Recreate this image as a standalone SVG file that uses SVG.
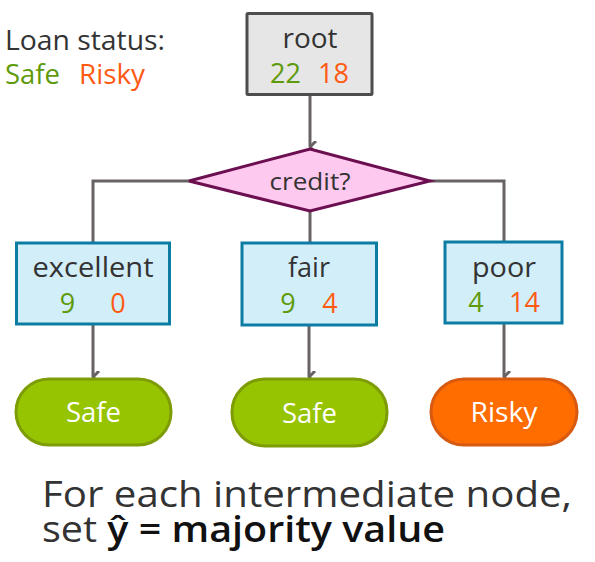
<svg xmlns="http://www.w3.org/2000/svg" width="595" height="562" viewBox="0 0 595 562">
<style>
text{font-family:"Open Sans","DejaVu Sans",sans-serif;}
.dark{fill:#333333}
.g{fill:#5e9a0a}
.o{fill:#ff5a12}
.lbl{font-size:27px;text-anchor:middle}
.num{font-size:27px;text-anchor:middle}
.box{fill:#d2eef9;stroke:#0d7ca3;stroke-width:3}
.con{fill:none;stroke:#686264;stroke-width:3}
.pill{font-size:27px;text-anchor:middle;fill:#ffffff}
</style>
<defs>
<marker id="ah" viewBox="0 0 12 12" refX="6" refY="11" markerWidth="12" markerHeight="12" markerUnits="userSpaceOnUse" orient="auto-start-reverse">
<polyline points="0,5 6,11 12,5" fill="none" stroke="#686264" stroke-width="3"/>
</marker>
</defs>
<g id="legend">
<text x="5" y="50" font-size="27" class="dark" textLength="160" lengthAdjust="spacingAndGlyphs">Loan status:</text>
<text x="5" y="84" font-size="27" class="g" textLength="55" lengthAdjust="spacingAndGlyphs">Safe</text>
<text x="79" y="84" font-size="27" class="o" textLength="66" lengthAdjust="spacingAndGlyphs">Risky</text>
</g>
<g id="connectors">
<line class="con" x1="310" y1="95" x2="310" y2="147" marker-end="url(#ah)"/>
<polyline class="con" points="189,181 93,181 93,243"/>
<line class="con" x1="310" y1="211" x2="310" y2="243"/>
<polyline class="con" points="430,181 504,181 504,242"/>
<line class="con" x1="93" y1="324" x2="93" y2="377" marker-end="url(#ah)"/>
<line class="con" x1="309" y1="325" x2="309" y2="377" marker-end="url(#ah)"/>
<line class="con" x1="504" y1="323" x2="504" y2="377" marker-end="url(#ah)"/>
</g>
<g id="root">
<rect x="247" y="13.5" width="125" height="81" fill="#e6e6e6" stroke="#4d4d4d" stroke-width="3" rx="1"/>
<text x="310" y="48" class="lbl dark" textLength="55" lengthAdjust="spacingAndGlyphs">root</text>
<text x="285.5" y="83" class="num g">22</text>
<text x="333.5" y="83" class="num o">18</text>
</g>
<g id="credit">
<polygon points="189,181 310,149 430,181 310,211" fill="#fec9ef" stroke="#6b0f50" stroke-width="3"/>
<text x="310" y="190" font-size="23.5" text-anchor="middle" class="dark" textLength="81" lengthAdjust="spacingAndGlyphs">credit?</text>
</g>
<g id="excellent">
<rect class="box" x="16.5" y="243" width="153" height="81"/>
<text x="93" y="277" class="lbl dark" textLength="121" lengthAdjust="spacingAndGlyphs">excellent</text>
<text x="67.5" y="313" class="num g">9</text>
<text x="118" y="313" class="num o">0</text>
</g>
<g id="fair">
<rect class="box" x="242" y="243" width="134.5" height="82"/>
<text x="309" y="277" class="lbl dark" textLength="42" lengthAdjust="spacingAndGlyphs">fair</text>
<text x="288" y="313" class="num g">9</text>
<text x="330" y="313" class="num o">4</text>
</g>
<g id="poor">
<rect class="box" x="445" y="242" width="117" height="81"/>
<text x="504" y="277" class="lbl dark" textLength="64" lengthAdjust="spacingAndGlyphs">poor</text>
<text x="476" y="312" class="num g">4</text>
<text x="524.5" y="312" class="num o">14</text>
</g>
<g id="safe1">
<rect x="16" y="379" width="155" height="66" rx="33" fill="#97c400" stroke="#7d9c06" stroke-width="3"/>
<text x="93.5" y="422" class="pill" textLength="55" lengthAdjust="spacingAndGlyphs">Safe</text>
</g>
<g id="safe2">
<rect x="232" y="379" width="155" height="67" rx="33" fill="#97c400" stroke="#7d9c06" stroke-width="3"/>
<text x="309.5" y="423" class="pill" textLength="55" lengthAdjust="spacingAndGlyphs">Safe</text>
</g>
<g id="risky">
<rect x="431" y="379" width="146" height="66" rx="33" fill="#ff6c00" stroke="#d65a10" stroke-width="3"/>
<text x="504" y="422" class="pill" textLength="67" lengthAdjust="spacingAndGlyphs">Risky</text>
</g>
<g id="note">
<text x="42" y="507" font-size="36" class="dark" textLength="530" lengthAdjust="spacingAndGlyphs">For each intermediate node,</text>
<text x="42" y="542" font-size="36" class="dark" textLength="403" lengthAdjust="spacingAndGlyphs">set <tspan font-weight="600" fill="#111111">ŷ = majority value</tspan></text>
</g>
</svg>
